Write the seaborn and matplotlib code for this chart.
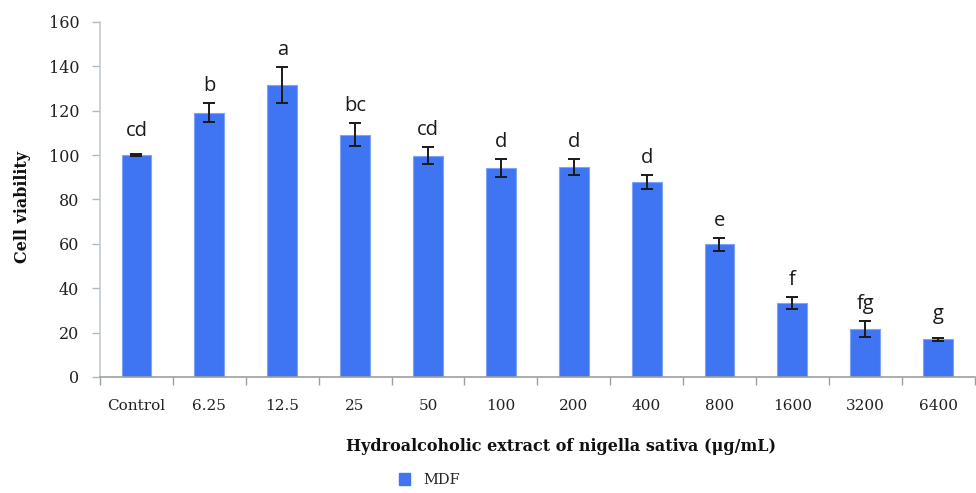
import matplotlib
matplotlib.use("Agg")
import matplotlib.pyplot as plt
import seaborn as sns
import pandas as pd
import numpy as np
from matplotlib.patches import Patch

categories = ["Control", "6.25", "12.5", "25", "50", "100", "200", "400", "800", "1600", "3200", "6400"]
viability = [100, 119, 131.5, 109.2, 99.8, 94.1, 94.6, 88, 59.8, 33.4, 21.7, 16.9]
errors = [0.4, 4.3, 8, 5.1, 3.9, 4.1, 3.7, 3.2, 2.8, 2.6, 3.6, 0.9]
letters = ["cd", "b", "a", "bc", "cd", "d", "d", "d", "e", "f", "fg", "g"]
series_name = "MDF"

sns.set_theme(style="white")
plt.rcParams['font.family'] = ['DejaVu Serif']

df = pd.DataFrame({"dose": categories, "viability": viability})

fig = plt.figure(figsize=(9.76, 4.93), dpi=100)
ax = fig.add_axes([0.1025, 0.2353, 0.896, 0.7201])

bar_color = "#3F74F2"
sns.barplot(data=df, x="dose", y="viability", order=categories, color=bar_color,
            width=0.41, errorbar=None, ax=ax, saturation=1,
            edgecolor="#7FA3F7", linewidth=0.8)

xs = np.arange(len(categories))
ax.errorbar(xs, viability, yerr=errors, fmt="none", ecolor="#1a1a1a",
            elinewidth=1.4, capsize=4, capthick=1.4, zorder=5)

for x, v, e, lab in zip(xs, viability, errors, letters):
    off = 6 if e < 1.5 else 3.2
    ax.text(x, v + e + off, lab, ha="center", va="bottom", fontsize=14.5,
            family=["Open Sans", "DejaVu Sans"], color="#1a1a1a")

ax.set_xlim(-0.5, len(categories) - 0.5)
ax.set_ylim(0, 160)
ax.set_yticks(np.arange(0, 161, 20))
ax.set_yticklabels([str(v) for v in range(0, 161, 20)], fontsize=11.5, color="#222222",
                   family="DejaVu Serif")
ax.set_xticks(xs)
ax.set_xticklabels(categories, fontsize=11, color="#222222", family="DejaVu Serif")
ax.set_xticks(np.arange(-0.5, len(categories)), minor=True)
ax.tick_params(axis="x", which="major", length=0, pad=16)
ax.tick_params(axis="x", which="minor", length=6, color="#9aa0a6", width=1, direction="out", bottom=True)
ax.tick_params(axis="y", which="major", length=6, color="#b0b8bf", width=1, direction="out", left=True, pad=9)

for s in ["top", "right"]:
    ax.spines[s].set_visible(False)
ax.spines["left"].set_color("#c4ccd2")
ax.spines["left"].set_linewidth(1.2)
ax.spines["bottom"].set_color("#9aa0a6")
ax.spines["bottom"].set_linewidth(1.2)

ax.set_xlabel("")
ax.set_ylabel("")
fig.text(0.023, 0.58, "Cell viability", rotation=90, ha="center", va="center",
         fontsize=11.5, fontweight="bold", color="#111111")
fig.text(0.575, 0.095, "Hydroalcoholic extract of nigella sativa (\u03bcg/mL)", ha="center", va="center",
         fontsize=11.5, fontweight="bold", color="#111111")

handle = Patch(facecolor=bar_color, edgecolor=bar_color)
fig.legend([handle], [series_name], loc="center", bbox_to_anchor=(0.44, 0.027),
           frameon=False, fontsize=10.5, handlelength=0.8, handleheight=0.9, handletextpad=0.9)

fig.savefig("out.png", dpi=100)
